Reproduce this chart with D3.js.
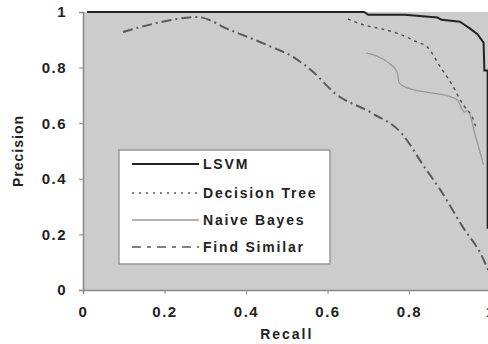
<!DOCTYPE html>
<html>
<head>
<meta charset="utf-8">
<script src="https://cdn.jsdelivr.net/npm/d3@7"></script>
<style>
  body { margin: 0; background: #fff; }
  text { font-family: "Liberation Sans", Arial, sans-serif; fill: #222; }
</style>
</head>
<body>
<script>
// values
var seriesNames = ["LSVM", "Decision Tree", "Naive Bayes", "Find Similar"];

var lsvmRecall    = [0.01, 0.69, 0.70, 0.79, 0.87, 0.88, 0.925, 0.935, 0.95, 0.968, 0.983, 0.985, 0.993, 0.993];
var lsvmPrecision = [1.0, 1.0, 0.99, 0.99, 0.98, 0.972, 0.965, 0.955, 0.94, 0.92, 0.89, 0.79, 0.79, 0.22];

var treeRecall    = [0.65, 0.69, 0.73, 0.77, 0.82, 0.845, 0.877, 0.909, 0.926, 0.943, 0.953, 0.965];
var treePrecision = [0.975, 0.953, 0.94, 0.924, 0.892, 0.874, 0.802, 0.73, 0.683, 0.647, 0.63, 0.58];

var bayesRecall    = [0.695, 0.747, 0.771, 0.776, 0.796, 0.855, 0.904, 0.919, 0.936, 0.945, 0.961, 0.983];
var bayesPrecision = [0.853, 0.82, 0.784, 0.745, 0.727, 0.709, 0.694, 0.683, 0.64, 0.645, 0.565, 0.45];

var simRecall    = [0.098, 0.18, 0.28, 0.361, 0.452, 0.518, 0.565, 0.617, 0.708, 0.781, 0.838, 0.877, 0.935, 0.975, 0.995];
var simPrecision = [0.928, 0.96, 0.982, 0.935, 0.881, 0.836, 0.784, 0.709, 0.637, 0.565, 0.442, 0.36, 0.22, 0.133, 0.07];

var xTicks = [0, 0.2, 0.4, 0.6, 0.8, 1];
var yTicks = [0, 0.2, 0.4, 0.6, 0.8, 1];

function zip(rs, ps) {
    return rs.map(function (r, i) { return { r: r, p: ps[i] }; });
}

var width = 488, height = 344;
var plotLeft = 83, plotRight = 490.5, plotTop = 12, plotBottom = 290;

var svg = d3.select("body").append("svg")
    .attr("width", width)
    .attr("height", height);

var x = d3.scaleLinear().domain([0, 1]).range([plotLeft, plotRight]);
var y = d3.scaleLinear().domain([0, 1]).range([plotBottom, plotTop]);

// plot area
svg.append("rect")
    .attr("x", plotLeft).attr("y", plotTop)
    .attr("width", plotRight - plotLeft).attr("height", plotBottom - plotTop)
    .attr("fill", "#cccccc");

function tickFmt(d) { return d === 0 || d === 1 ? d : d3.format(".1f")(d); }

// axes
var xAxis = svg.append("g")
    .attr("transform", "translate(0," + plotBottom + ")")
    .call(d3.axisBottom(x).tickValues(xTicks).tickSize(4).tickPadding(12).tickFormat(tickFmt));
var yAxis = svg.append("g")
    .attr("transform", "translate(" + plotLeft + ",0)")
    .call(d3.axisLeft(y).tickValues(yTicks).tickSize(4).tickPadding(12).tickFormat(tickFmt));

[xAxis, yAxis].forEach(function (a) {
    a.select(".domain").attr("stroke", "#888").attr("stroke-width", 1.5);
    a.selectAll(".tick line").attr("stroke", "#888");
    a.selectAll(".tick text")
        .style("font-size", "15px")
        .style("font-family", "'Liberation Sans', Arial, sans-serif")
        .style("font-weight", "bold")
        .style("letter-spacing", "1.5px")
        .attr("fill", "#333");
});

svg.append("text")
    .attr("x", (plotLeft + plotRight) / 2)
    .attr("y", 339)
    .attr("text-anchor", "middle")
    .style("font-size", "14px")
    .style("font-weight", "bold")
    .style("letter-spacing", "2px")
    .text("Recall");

svg.append("text")
    .attr("transform", "translate(23," + (plotTop + plotBottom) / 2 + ") rotate(-90)")
    .attr("text-anchor", "middle")
    .style("font-size", "14px")
    .style("font-weight", "bold")
    .style("letter-spacing", "1px")
    .text("Precision");

// series
var styles = [
    { stroke: "#222", width: 2, dash: null, curve: d3.curveLinear },
    { stroke: "#555", width: 1.5, dash: "3,4", curve: d3.curveMonotoneX },
    { stroke: "#999", width: 1.3, dash: null, curve: d3.curveMonotoneX },
    { stroke: "#5a5a5a", width: 2, dash: "10,4,2,4", curve: d3.curveMonotoneX }
];
var data = [
    zip(lsvmRecall, lsvmPrecision),
    zip(treeRecall, treePrecision),
    zip(bayesRecall, bayesPrecision),
    zip(simRecall, simPrecision)
];

// draw order: find similar, naive bayes, tree, lsvm on top
[3, 2, 1, 0].forEach(function (i) {
    var line = d3.line()
        .x(function (d) { return x(d.r); })
        .y(function (d) { return y(d.p); })
        .curve(styles[i].curve);
    svg.append("path")
        .datum(data[i])
        .attr("d", line)
        .attr("fill", "none")
        .attr("stroke", styles[i].stroke)
        .attr("stroke-width", styles[i].width)
        .attr("stroke-dasharray", styles[i].dash);
});

// legend
var legend = svg.append("g").attr("transform", "translate(119,150)");
legend.append("rect")
    .attr("width", 211).attr("height", 114)
    .attr("fill", "#fff")
    .attr("stroke", "#999")
    .attr("stroke-width", 1.5);

var legendY = [14, 43, 70, 97];
seriesNames.forEach(function (name, i) {
    var g = legend.append("g").attr("transform", "translate(0," + legendY[i] + ")");
    g.append("line")
        .attr("x1", 13).attr("x2", 80)
        .attr("stroke", styles[i].stroke)
        .attr("stroke-width", i === 0 ? 2 : 1.5)
        .attr("stroke-dasharray", i === 1 ? "2,5" : (i === 3 ? "9,6,4,6" : null));
    g.append("text")
        .attr("x", 84)
        .attr("dy", "0.35em")
        .style("font-size", "14px")
        .style("font-weight", "bold")
        .style("letter-spacing", "1.8px")
        .text(name);
});
</script>
</body>
</html>
